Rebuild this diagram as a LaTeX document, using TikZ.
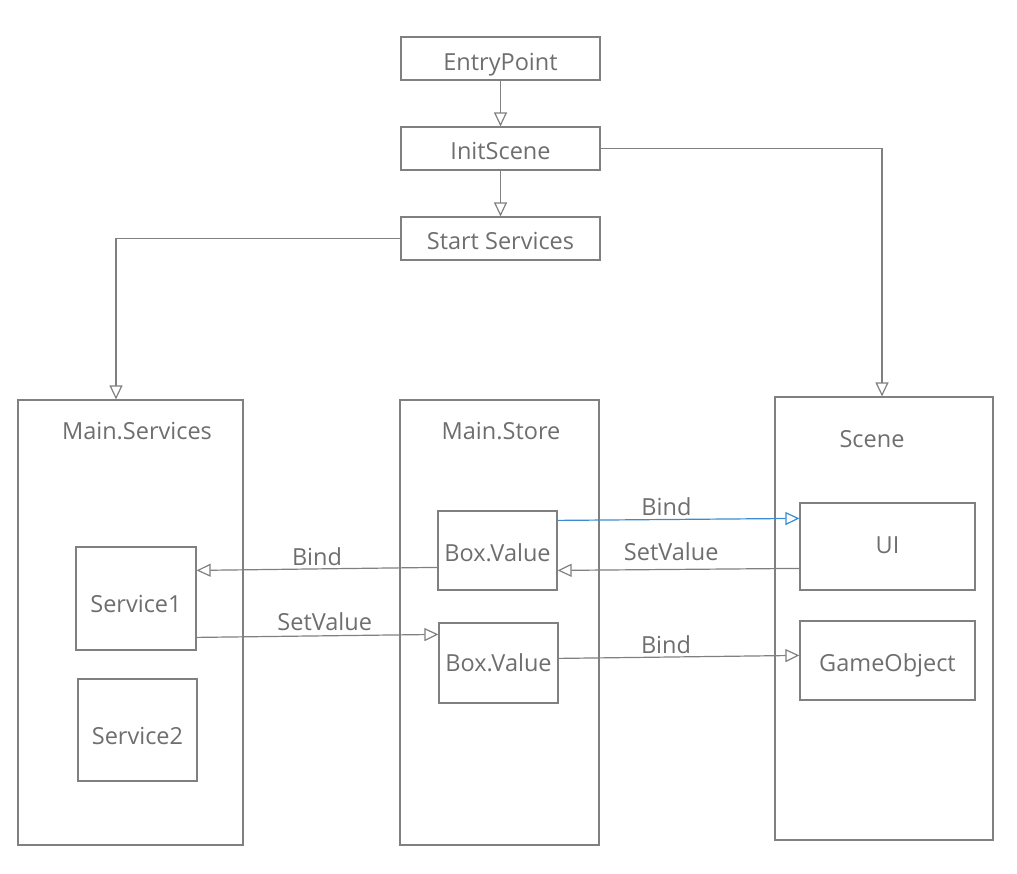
\documentclass[tikz,border=0pt]{standalone}
\usepackage{fontspec}
\setmainfont{Open Sans}
\usetikzlibrary{arrows.meta}
\definecolor{ln}{HTML}{808080}
\definecolor{tx}{HTML}{6E6E6E}
\definecolor{bl}{HTML}{3A8CD2}
\newcommand{\bsl}[2]{\raisebox{-#1pt}[0pt][0pt]{#2}}
\begin{document}
\begin{tikzpicture}[x=1pt,y=-1pt,
  box/.style={draw=ln,line width=1.2pt,text=tx,inner sep=0pt,font=\fontsize{23.5}{27}\selectfont},
  lbl/.style={text=tx,inner sep=0pt,font=\fontsize{23.5}{27}\selectfont},
  elbl/.style={lbl,anchor=base,yshift=#1},
  conn/.style={draw=ln,line width=1.2pt,-{Triangle[open,length=14pt,width=13pt]}}]
\useasboundingbox (0,0) rectangle (1017,873);
% outer containers
\node[box,minimum width=225pt,minimum height=445pt] (ms) at (130.5,622.5) {};
\node[box,minimum width=199pt,minimum height=445pt] (mst) at (499.5,622.5) {};
\node[box,minimum width=218pt,minimum height=443pt] (sc) at (884,618.5) {};
\node[lbl,anchor=base] (msl) at (137,439.5) {Main.Services};
\node[lbl,anchor=base] (mstl) at (501,439.5) {Main.Store};
\node[lbl,anchor=base] (scl) at (872,447.5) {Scene};
% top boxes
\node[box,minimum width=199pt,minimum height=43pt] (ep) at (500.5,58.5) {\bsl{11.5}{EntryPoint}};
\node[box,minimum width=199pt,minimum height=43pt] (is) at (500.5,148.5) {\bsl{10.5}{InitScene}};
\node[box,minimum width=199pt,minimum height=43pt] (ss) at (500.5,238.5) {\bsl{10.5}{Start Services}};
% inner boxes
\node[box,minimum width=119pt,minimum height=79pt] (bv1) at (497.5,550.5) {\bsl{10.5}{Box.Value}};
\node[box,minimum width=119pt,minimum height=80pt] (bv2) at (498.5,663) {\bsl{8}{Box.Value}};
\node[box,minimum width=175pt,minimum height=87pt] (ui) at (887.5,546.5) {\bsl{7}{UI}};
\node[box,minimum width=175pt,minimum height=79pt] (go) at (887.5,660.5) {\bsl{10.5}{GameObject}};
\node[box,minimum width=120pt,minimum height=103pt] (s1) at (136,598.5) {\bsl{13.5}{Service1}};
\node[box,minimum width=119pt,minimum height=102pt] (s2) at (137.5,730) {\bsl{14}{Service2}};
% connectors
\draw[conn] (ep) -- (is);
\draw[conn] (is) -- (ss);
\draw[conn] (is.east) -| ([xshift=-2pt]sc.north);
\draw[conn] (ss.west) -| ([xshift=-14.5pt]ms.north);
\draw[conn,draw=bl] ([yshift=-10pt]bv1.north east) -- node[elbl=4pt,pos=0.45]{Bind} ([yshift=-16pt]ui.north west);
\draw[conn] ([yshift=-66pt]ui.north west) -- node[elbl=9pt,pos=0.53]{SetValue} ([yshift=-60pt]bv1.north east);
\draw[conn] ([yshift=-57pt]bv1.north west) -- node[elbl=3pt,pos=0.5]{Bind} ([yshift=-24pt]s1.north east);
\draw[conn] ([yshift=-91pt]s1.north east) -- node[elbl=5pt,pos=0.53]{SetValue} ([yshift=-12pt]bv2.north west);
\draw[conn] ([yshift=-36pt]bv2.north east) -- node[elbl=4pt,pos=0.446]{Bind} ([yshift=-35pt]go.north west);
\end{tikzpicture}
\end{document}
